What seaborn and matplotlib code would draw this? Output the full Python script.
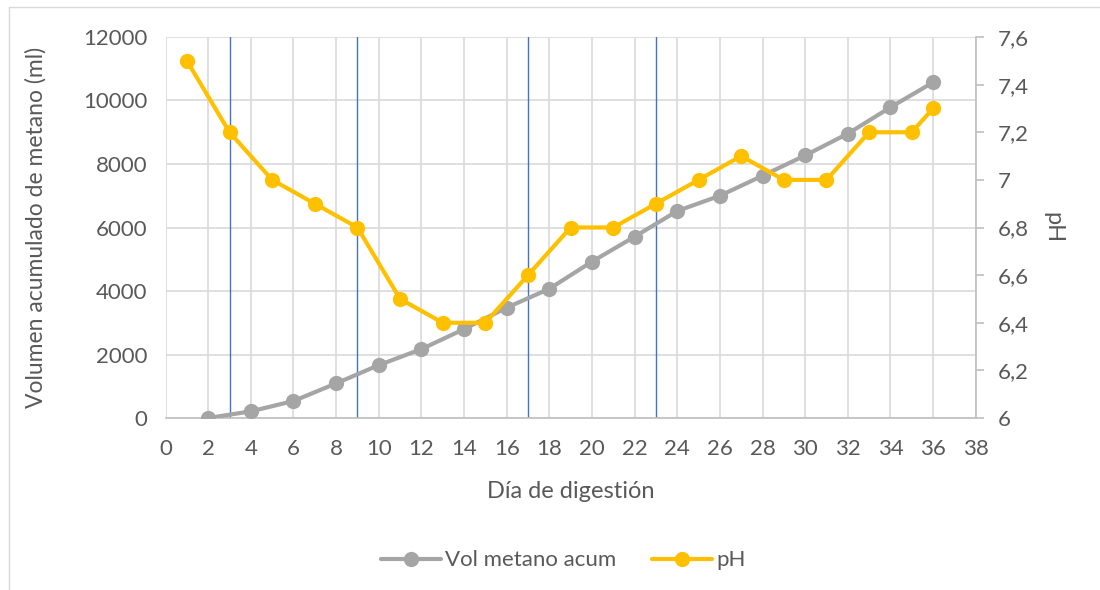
import matplotlib
matplotlib.use("Agg")
import matplotlib.pyplot as plt
import seaborn as sns
import pandas as pd
from matplotlib.lines import Line2D
from matplotlib.ticker import FuncFormatter

dias_metano = [2, 4, 6, 8, 10, 12, 14, 16, 18, 20, 22, 24, 26, 28, 30, 32, 34, 36]
vol_metano = [0, 210, 535, 1090, 1665, 2170, 2800, 3475, 4070, 4925, 5710, 6520, 7000, 7630, 8270, 8955, 9785, 10570]
dias_ph = [1, 3, 5, 7, 9, 11, 13, 15, 17, 19, 21, 23, 25, 27, 29, 31, 33, 35, 36]
ph = [7.5, 7.2, 7.0, 6.9, 6.8, 6.5, 6.4, 6.4, 6.6, 6.8, 6.8, 6.9, 7.0, 7.1, 7.0, 7.0, 7.2, 7.2, 7.3]
lineas_fase = [3, 9, 17, 23]
x_ticks = list(range(0, 39, 2))
y_ticks = list(range(0, 12001, 2000))
ph_ticks = [6.0, 6.2, 6.4, 6.6, 6.8, 7.0, 7.2, 7.4, 7.6]

GRAY = "#A5A5A5"
YELLOW = "#FFC000"
BLUE = "#4472C4"
GRID = "#D9D9D9"
TEXT = "#595959"

sns.set_style("white")
plt.rcParams["font.family"] = ["Lato", "DejaVu Sans"]

df_m = pd.DataFrame({"dia": dias_metano, "vol": vol_metano})
df_p = pd.DataFrame({"dia": dias_ph, "ph": ph})

fig = plt.figure(figsize=(11, 5.9), dpi=100)
ax = fig.add_axes([0.1505, 0.2915, 0.7365, 0.6458])

for xv in lineas_fase:
    ax.axvline(xv, color=BLUE, lw=1.0, zorder=1.5)

sns.lineplot(data=df_m, x="dia", y="vol", ax=ax, color=GRAY, lw=3, marker="o",
             markersize=11, markeredgewidth=0, zorder=3)
ax.set_xlim(0, 38)
ax.set_ylim(0, 12000)
ax.set_xticks(x_ticks)
ax.set_yticks(y_ticks)
ax.grid(True, color=GRID, lw=1.2)
ax.set_axisbelow(True)
for s in ["top", "right", "left"]:
    ax.spines[s].set_visible(False)
ax.spines["bottom"].set_color("#BFBFBF")
ax.spines["bottom"].set_linewidth(1.2)
ax.tick_params(axis="both", length=0, labelsize=16, colors=TEXT)
ax.tick_params(axis="x", pad=15)
ax.tick_params(axis="y", pad=13)
ax.set_xlabel("Día de digestión", fontsize=17, color=TEXT, labelpad=16)
ax.set_ylabel("Volumen acumulado de metano (ml)", fontsize=16.5, color=TEXT, labelpad=26)

ax2 = ax.twinx()
sns.lineplot(data=df_p, x="dia", y="ph", ax=ax2, color=YELLOW, lw=3, marker="o",
             markersize=11, markeredgewidth=0, zorder=3)
ax2.set_ylim(6, 7.6)
ax2.set_yticks(ph_ticks)
ax2.yaxis.set_major_formatter(FuncFormatter(lambda v, p: ("%g" % round(v, 1)).replace(".", ",")))
for s in ["top", "left", "bottom"]:
    ax2.spines[s].set_visible(False)
ax2.spines["right"].set_color("#BFBFBF")
ax2.spines["right"].set_linewidth(1.2)
ax2.tick_params(axis="y", length=6, width=1.2, color="#BFBFBF", labelsize=16, labelcolor=TEXT, pad=10)
ax2.set_ylabel("pH", fontsize=17, color=TEXT, rotation=270, labelpad=25)
ax2.set_xlabel("")

handles = [
    Line2D([0], [0], color=GRAY, lw=3, marker="o", markersize=11, markeredgewidth=0),
    Line2D([0], [0], color=YELLOW, lw=3, marker="o", markersize=11, markeredgewidth=0),
]
fig.legend(handles, ["Vol metano acum", "pH"], loc="center", bbox_to_anchor=(0.512, 0.05),
           ncol=2, frameon=False, fontsize=16, labelcolor=TEXT, handlelength=2.7,
           columnspacing=1.6, handletextpad=0.2)

# chart area border
fig.add_artist(Line2D([9 / 1100, 9 / 1100], [0, 1 - 7 / 590], transform=fig.transFigure, color="#D9D9D9", lw=1))
fig.add_artist(Line2D([9 / 1100, 1], [1 - 7 / 590, 1 - 7 / 590], transform=fig.transFigure, color="#D9D9D9", lw=1))

fig.savefig("out.png", dpi=100)
